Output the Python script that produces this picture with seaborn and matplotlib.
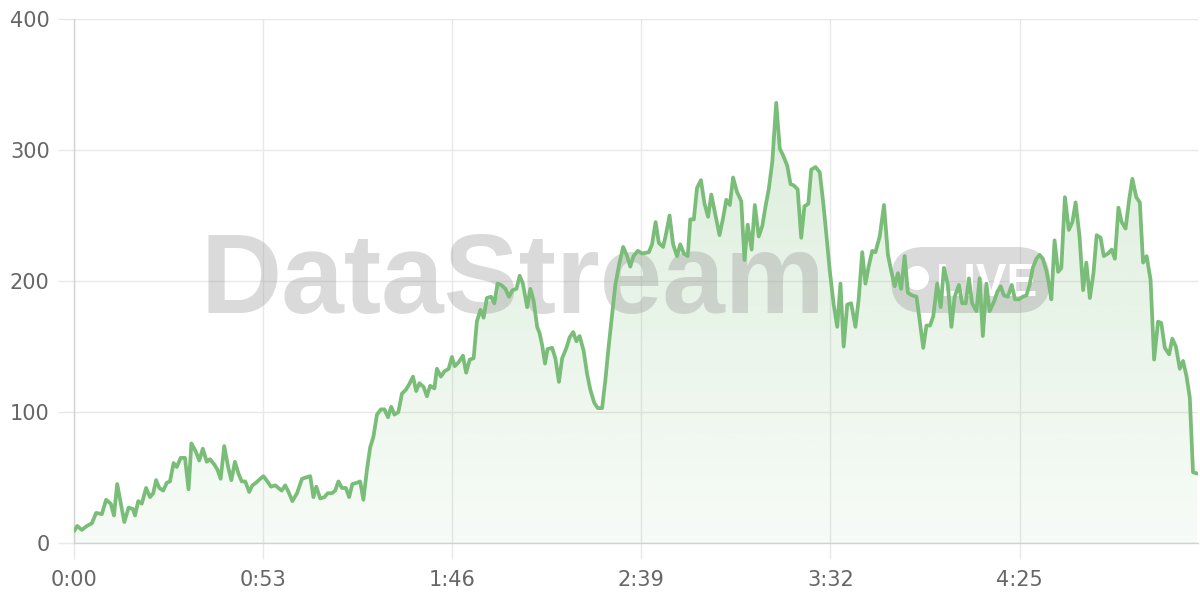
import numpy as np
import seaborn as sns
import matplotlib.pyplot as plt
from matplotlib.colors import to_rgb
from matplotlib.patches import PathPatch, FancyBboxPatch, Circle
from matplotlib.transforms import IdentityTransform

# elapsed time (seconds) and viewer counts
seconds = [
    0, 0.9, 2.2, 3.6, 5.0, 6.2, 7.8, 9.0, 10.3, 11.2, 12.1, 14.1, 15.3, 16.5, 17.1, 18.0, 19.0,
    20.2, 21.3, 22.2, 23.0, 23.9, 25.0, 26.0, 26.9, 27.9, 28.8, 29.9, 31.1, 32.1, 32.9, 34.1,
    35.1, 36.1, 37.2, 38.1, 39.3, 40.2, 41.1, 42.1, 43.2, 44.1, 45.1, 46.1, 47.0, 48.0, 49.1,
    50.0, 51.0, 52.2, 53.1,
    54.2, 55.2, 56.4, 57.3, 58.2, 59.2, 60.1, 61.2, 62.5, 63.9, 65.0, 66.2, 67.1, 67.9, 69.0,
    70.2, 71.1, 72.3, 73.2, 74.1, 75.1, 76.2, 77.1, 78.0, 79.3, 80.2, 81.1, 82.1, 83.0, 83.9,
    84.9, 86.0, 87.0, 88.0, 88.9, 89.8, 90.9, 91.9, 93.0, 93.9, 95.0, 95.9, 96.8, 98.0, 98.9,
    99.8, 101.0, 101.7, 102.8, 103.8, 105.0, 105.9, 106.7,
    107.8, 109.0, 109.9, 110.9, 112.0, 112.9, 113.9, 114.8, 115.7, 116.9, 117.8, 118.7, 119.7,
    120.9, 121.9, 122.9, 124.0, 124.9, 125.8, 127.0, 127.9, 128.8, 129.8, 130.5, 131.2, 132.0,
    132.7, 134.0, 134.9, 135.9, 136.8, 138.0, 138.9, 139.9, 140.8, 141.7, 142.8, 143.8, 144.7,
    145.8, 146.8, 148.0, 148.9, 149.8, 150.8, 151.7, 152.8, 153.9, 155.0, 155.9, 156.8, 158.0,
    159.2,
    161.1, 162.0, 163.0, 163.9, 165.1, 166.0, 166.9, 167.9, 169.0, 169.9, 170.9, 172.0, 172.7,
    173.7, 174.6, 175.7, 176.7, 177.7, 178.6, 179.8, 180.9, 181.9, 182.8, 183.8, 184.7, 185.8,
    187.0, 187.9, 188.8, 189.9, 190.8, 191.9, 192.9, 193.8, 194.7, 195.7, 196.8, 197.8, 198.7,
    199.9, 200.8, 201.7, 202.8, 203.8, 204.7, 205.8, 206.6, 207.8, 209.0, 210.0, 210.9, 211.8,
    212.9, 213.9, 214.8, 215.7, 216.7, 217.8, 219.0, 219.9, 220.9, 221.8, 222.7, 223.7, 224.6,
    225.8, 227.0, 228.1, 229.0, 230.0, 230.9, 231.8, 232.8, 233.7, 234.9, 236.1, 237.0, 238.0,
    238.9, 239.9, 240.8, 241.9, 242.9, 243.8, 244.9, 245.9, 246.8, 248.0, 248.9, 249.9, 250.8,
    251.7, 252.9, 253.8, 254.7, 255.7, 256.6, 257.8, 258.8, 259.7, 260.6, 261.7, 262.8, 263.7,
    264.8,
    265.9, 266.9, 267.8, 268.7, 269.7, 270.6, 271.5, 272.5, 273.2, 273.9, 274.8, 275.8, 276.7,
    277.7, 278.8, 279.8, 280.7, 281.8, 282.8, 283.7, 284.7, 285.7, 286.6, 287.7, 288.6, 289.8,
    290.8, 291.7, 292.7, 293.6, 294.7, 295.7, 296.6, 297.7, 298.7, 299.6, 300.6, 301.7, 302.7,
    303.8, 304.7, 305.7, 306.9, 307.8, 308.8, 309.9, 310.8, 311.8, 312.7, 313.6, 314.8,
]
viewers = [
    9, 13, 10, 13, 15, 23, 22, 33, 30, 21, 45, 16, 27, 26, 21, 32, 30, 42, 35, 38,
    48, 42, 40, 46, 47, 61, 58, 65, 65, 41, 76, 70, 63, 72, 62, 64, 60, 56, 49, 74,
    58, 48, 62, 53, 47, 47, 39, 44, 46, 49, 51,
    47, 43, 44, 42, 40, 44, 39, 32, 38, 49, 50, 51, 35, 43, 34, 35, 38, 38, 40, 47,
    42, 42, 35, 45, 46, 47, 33, 56, 73, 81, 98, 102, 102, 96, 104, 98, 100, 114, 117, 121,
    127, 116, 122, 119, 112, 120, 118, 133, 127, 131, 133, 142, 135,
    138, 143, 130, 140, 141, 169, 178, 172, 187, 188, 183, 198, 197, 194, 188, 193, 194, 204,
    198, 180, 194, 185, 165, 160, 151, 137, 148, 149, 141, 123, 141, 149, 157, 161, 154, 158,
    147, 129, 117, 107, 103, 103, 124, 149, 174, 197, 213, 226, 219, 211, 219, 223, 221,
    222, 228, 245, 229, 226, 237, 250, 228, 219, 228, 221, 219, 247, 247, 271, 277, 259, 249,
    266, 250, 235, 248, 262, 258, 279, 268, 261, 216, 243, 224, 258, 234, 242, 257, 270, 291,
    336, 301, 296, 288, 274, 273, 270, 233, 257, 259, 285, 287, 283, 259, 234, 208,
    182, 165, 198, 150, 182, 183, 165, 186, 222, 198, 211, 223, 222, 234, 258, 220, 208, 196,
    206, 194, 219, 191, 189, 188, 170, 149, 166, 166, 173, 198, 180, 210, 197, 165, 188, 197,
    183, 183, 202, 183, 177, 202, 158, 198, 177, 184, 192, 196, 189, 188, 197, 186, 186,
    188, 189, 197, 210, 217, 220, 217, 208, 198, 186, 231, 207, 210, 264, 239, 245, 260, 234,
    193, 214, 187, 206, 235, 233, 219, 221, 224, 217, 256, 245, 240, 262, 278, 264, 260, 214,
    219, 201, 140, 169, 168, 149, 144, 156, 150, 133, 139, 127, 111, 54, 53,
]
tick_secs = [0, 53, 106, 159, 212, 265]
tick_labels = ["0:00", "0:53", "1:46", "2:39", "3:32", "4:25"]
y_ticks = [0, 100, 200, 300, 400]

green = "#79bd79"

sns.set_theme(style="whitegrid")
plt.rcParams["font.family"] = ["DejaVu Sans"]

fig = plt.figure(figsize=(12, 6), dpi=100)
ax = fig.add_axes([74 / 1200, 57 / 600, 1124 / 1200, 524 / 600])
ax.set_facecolor("white")

# gradient fill under the line
alpha = np.linspace(0.06, 0.30, 256)
rgba = np.zeros((256, 1, 4))
rgba[..., :3] = to_rgb(green)
rgba[:, 0, 3] = alpha
img = ax.imshow(rgba, extent=[0, 315, 0, 400], origin="lower", aspect="auto",
                interpolation="bilinear", zorder=1)
area = ax.fill_between(seconds, viewers, 0, color="none", linewidth=0)
clip = PathPatch(area.get_paths()[0], transform=ax.transData, facecolor="none", edgecolor="none")
ax.add_patch(clip)
img.set_clip_path(clip)

# watermark
px = IdentityTransform()
wm = "#999999"
ax.text(200, 287, "DataStream", transform=px, fontsize=81, fontweight="bold",
        family="Liberation Sans", color=wm, alpha=0.36, ha="left", va="baseline", zorder=2)
ax.add_artist(FancyBboxPatch((891, 287), 159, 66, boxstyle="round,pad=0,rounding_size=33",
                             transform=px, facecolor=wm, edgecolor="none", alpha=0.36, zorder=2))
ax.add_artist(Circle((917, 322), 12, transform=px, facecolor="white", edgecolor="none", zorder=2.1))
ax.text(936, 304, "LIVE", transform=px, fontsize=33, fontweight="bold", family="Liberation Sans",
        color="white", ha="left", va="baseline", zorder=2.1)

sns.lineplot(x=seconds, y=viewers, color=green, linewidth=2.7, ax=ax, zorder=3)

ax.set_xlim(0, 315)
ax.set_ylim(0, 400)
ax.set_xticks(tick_secs)
ax.set_xticklabels(tick_labels)
ax.set_yticks(y_ticks)
ax.grid(True, color="#e8e8e8", linewidth=1)
ax.set_axisbelow(True)
for side in ["top", "right"]:
    ax.spines[side].set_visible(False)
for side in ["left", "bottom"]:
    ax.spines[side].set_color("#d2d2d2")
    ax.spines[side].set_linewidth(1)
ax.tick_params(axis="both", length=11.5, width=1, color="#e8e8e8", labelsize=15,
               labelcolor="#666666", pad=6, left=True, bottom=True)
ax.tick_params(axis="x", pad=8)

fig.savefig("out.png", dpi=100)
